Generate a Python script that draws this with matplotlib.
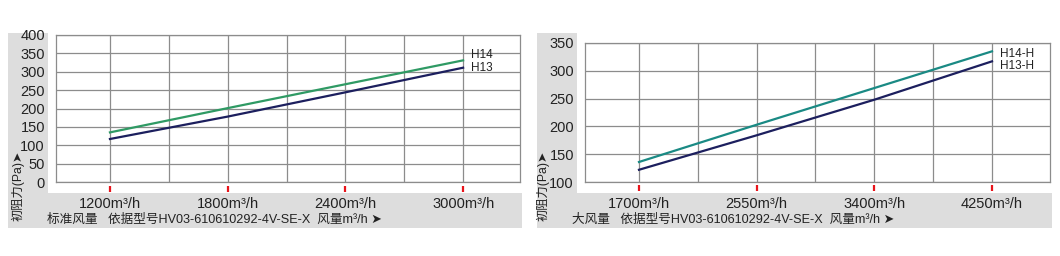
import matplotlib.pyplot as plt
from matplotlib.patches import Rectangle

plt.rcParams['font.family'] = ['Liberation Sans', 'Noto Sans CJK SC', 'DejaVu Sans']

# left chart: standard airflow
flow_std = [1200, 1800, 2400, 3000]
h14 = [135, 201, 266, 331]
h13 = [117, 178, 244, 311]

# right chart: high airflow
flow_big = [1700, 2550, 3400, 4250]
h14_h = [136, 203, 269, 335]
h13_h = [122, 184, 248, 317]

std_labels = ['1200m³/h', '1800m³/h', '2400m³/h', '3000m³/h']
big_labels = ['1700m³/h', '2550m³/h', '3400m³/h', '4250m³/h']

W, H = 1060, 256
fig = plt.figure(figsize=(10.6, 2.56), dpi=100)


def px(x0, y0, x1, y1):
    # pixel box -> figure fraction rect
    return [x0 / W, 1 - y1 / H, (x1 - x0) / W, (y1 - y0) / H]


def bg(x0, y0, x1, y1, c):
    l, b, w, h = px(x0, y0, x1, y1)
    fig.patches.append(Rectangle((l, b), w, h, transform=fig.transFigure,
                                 facecolor=c, edgecolor='none', zorder=-10))


bg(8, 33, 522, 228, '#dddddd')
bg(48, 33, 522, 193, 'white')
bg(537, 33, 1052, 228, '#dddddd')
bg(577, 33, 1052, 193, 'white')

navy = '#1c1f5e'
cjk = ['Liberation Sans', 'Noto Sans CJK SC', 'DejaVu Sans']


def panel(rect, xs, s1, s2, c1, n1, n2, xlim, ylim, yticks, step, xlabels,
          off1, off2, model_txt, ylab_x, cap_txt):
    ax = fig.add_axes(rect)
    ax.patch.set_alpha(0)
    ax.plot(xs, s1, color=c1, lw=1.6)
    ax.plot(xs, s2, color=navy, lw=1.6)
    ax.set_xlim(*xlim)
    ax.set_ylim(*ylim)
    ax.set_yticks(yticks)
    ax.set_xticks(xs)
    ax.set_xticklabels(xlabels)
    ax.set_xticks([x + step for x in xs[:-1]], minor=True)
    ax.grid(True, which='both', color='#8c8c8c', lw=0.9)
    ax.set_axisbelow(True)
    ax.tick_params(which='both', length=0)
    ax.tick_params(axis='x', pad=11, labelsize=10.5, colors='#222222')
    ax.tick_params(axis='y', pad=8, labelsize=10.5, colors='#222222')
    for s in ax.spines.values():
        s.set_color('#8c8c8c')
        s.set_linewidth(0.9)
    # red marks under the labelled flows
    ax.plot(xs, [-0.045] * len(xs), ls='none', marker='|', ms=5, mew=1.6,
            color='#e8141b', transform=ax.get_xaxis_transform(), clip_on=False)
    ax.annotate(n1, (xs[-1], s1[-1]), xytext=(6, off1), textcoords='offset points',
                va='center', fontsize=8.5, color='#222222')
    ax.annotate(n2, (xs[-1], s2[-1]), xytext=(6, off2), textcoords='offset points',
                va='center', fontsize=8.5, color='#222222')
    fig.text(ylab_x / W, 1 - 221 / H, '初阻力(Pa)➤', rotation=90, ha='center',
             va='bottom', fontsize=8.8, color='#222222', family=cjk)
    fig.text((ylab_x + 29) / W, 1 - 220 / H, cap_txt + model_txt, ha='left', va='center',
             fontsize=9.1, color='#222222', family=cjk)
    return ax


model = '依据型号HV03-610610292-4V-SE-X  风量m³/h ➤'

panel(px(56, 35, 520, 182), flow_std, h14, h13, '#2f9a64', 'H14', 'H13',
      (925, 3290), (0, 400), range(0, 401, 50), 300, std_labels,
      4, 0, model, 18, '标准风量   ')

panel(px(585, 43, 1050, 182), flow_big, h14_h, h13_h, '#1a8a84', 'H14-H', 'H13-H',
      (1310, 4669), (100, 350), range(100, 351, 50), 425, big_labels,
      -2, -3, model, 543, '大风量   ')

fig.savefig('out.png', dpi=100)
